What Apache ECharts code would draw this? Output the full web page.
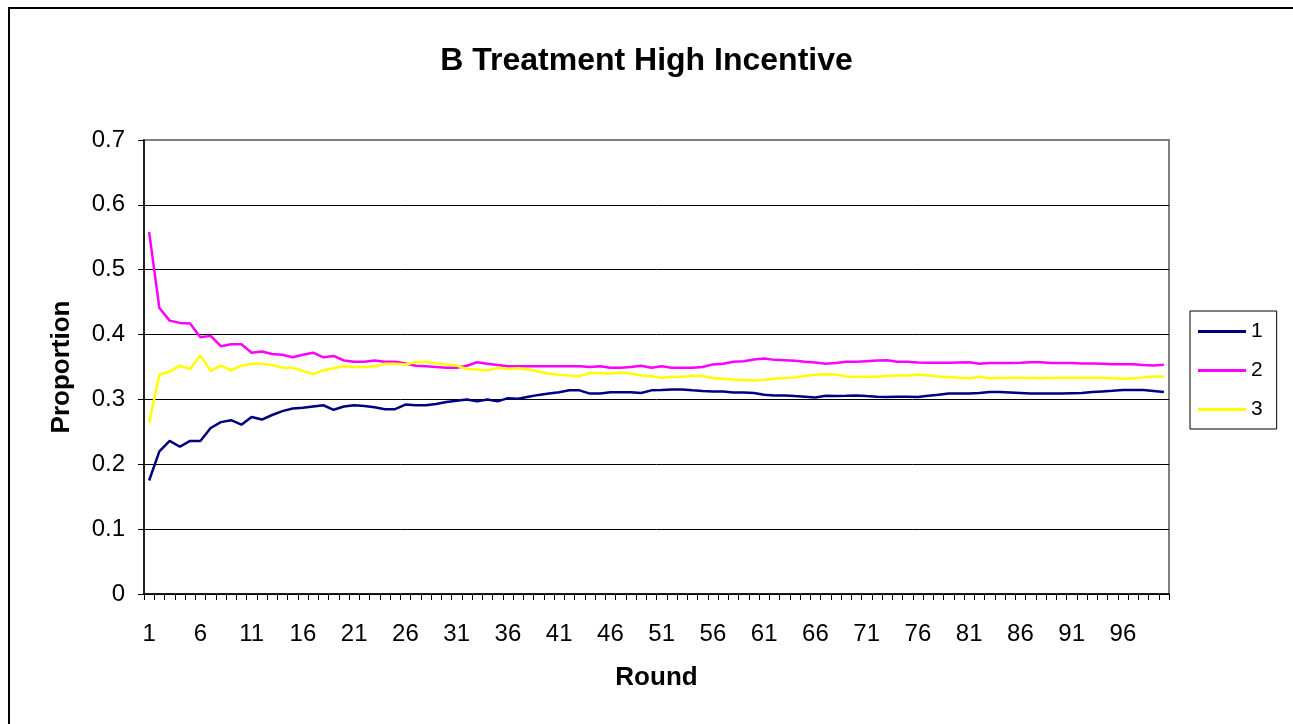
<!DOCTYPE html>
<html>
<head>
<meta charset="utf-8">
<script src="https://cdn.jsdelivr.net/npm/echarts@6/dist/echarts.min.js"></script>
<style>html,body{margin:0;padding:0;background:#fff;}#c{width:1293px;height:724px;}</style>
</head>
<body>
<div id="c"></div>
<script>
const rounds = [1,2,3,4,5,6,7,8,9,10,11,12,13,14,15,16,17,18,19,20,21,22,23,24,25,26,27,28,29,30,31,32,33,34,35,36,37,38,39,40,41,42,43,44,45,46,47,48,49,50,51,52,53,54,55,56,57,58,59,60,61,62,63,64,65,66,67,68,69,70,71,72,73,74,75,76,77,78,79,80,81,82,83,84,85,86,87,88,89,90,91,92,93,94,95,96,97,98,99,100];
const seriesNames = ['1','2','3'];
const s1 = [0.175,0.220,0.236,0.227,0.236,0.236,0.256,0.265,0.268,0.261,
  0.273,0.269,0.276,0.282,0.286,0.287,0.289,0.291,0.284,0.289,
  0.291,0.290,0.288,0.285,0.285,0.292,0.291,0.291,0.293,0.296,
  0.298,0.300,0.297,0.300,0.297,0.302,0.301,0.304,0.307,0.309,
  0.311,0.314,0.314,0.309,0.309,0.311,0.311,0.311,0.310,0.314,
  0.3144,0.3154,0.3154,0.314,0.313,0.3123,0.3123,0.3108,0.3108,0.310,
  0.3072,0.3062,0.3062,0.3051,0.3041,0.303,0.3056,0.3051,0.3056,0.3062,
  0.3051,0.3041,0.3036,0.3041,0.3041,0.3036,0.3056,0.3072,0.3092,0.3092,
  0.3092,0.310,0.3113,0.3113,0.3108,0.310,0.3092,0.3092,0.3092,0.3092,
  0.3097,0.310,0.3113,0.3123,0.3133,0.3144,0.3144,0.3144,0.313,0.3113];
const s2 = [0.558,0.441,0.4215,0.418,0.417,0.396,0.398,0.382,0.385,0.385,
  0.372,0.374,0.370,0.369,0.365,0.369,0.372,0.365,0.367,0.360,
  0.358,0.358,0.360,0.358,0.358,0.3554,0.352,0.351,0.350,0.349,
  0.349,0.352,0.3574,0.3549,0.353,0.351,0.351,0.351,0.351,0.351,
  0.351,0.351,0.351,0.350,0.351,0.349,0.349,0.350,0.352,0.349,
  0.351,0.349,0.349,0.349,0.350,0.354,0.355,0.358,0.359,0.3615,
  0.363,0.361,0.3605,0.3595,0.358,0.357,0.355,0.356,0.358,0.358,
  0.359,0.360,0.3605,0.358,0.358,0.357,0.3564,0.3564,0.3564,0.3569,
  0.3574,0.3549,0.356,0.356,0.356,0.3564,0.3574,0.3574,0.356,0.356,
  0.356,0.3554,0.3554,0.3549,0.3544,0.3544,0.3544,0.353,0.3523,0.3533];
const s3 = [0.264,0.338,0.343,0.352,0.347,0.368,0.344,0.352,0.345,0.352,
  0.355,0.355,0.353,0.349,0.349,0.344,0.339,0.345,0.348,0.351,
  0.350,0.350,0.351,0.355,0.355,0.3538,0.3574,0.358,0.3554,0.354,
  0.3523,0.347,0.346,0.3446,0.3487,0.347,0.3482,0.3462,0.343,0.3395,
  0.338,0.3369,0.3359,0.341,0.3405,0.340,0.3415,0.340,0.3369,0.3359,
  0.3333,0.335,0.335,0.3364,0.336,0.333,0.3318,0.3308,0.330,0.329,
  0.3303,0.3318,0.333,0.334,0.336,0.338,0.339,0.3385,0.3354,0.3344,
  0.335,0.335,0.3364,0.337,0.337,0.3385,0.337,0.3354,0.3344,0.3333,
  0.3328,0.335,0.3328,0.3333,0.3333,0.3333,0.3333,0.3328,0.3333,0.3333,
  0.3333,0.3333,0.3333,0.3333,0.3328,0.3318,0.3328,0.334,0.3354,0.3354];
const yTicks = [0,0.1,0.2,0.3,0.4,0.5,0.6,0.7];

const colors = ['#000080','#FF00FF','#FFFF00'];
const font = 'Liberation Sans, Arial, sans-serif';
const chart = echarts.init(document.getElementById('c'), null, {renderer:'canvas'});
const values = [s1, s2, s3];
chart.setOption({
  animation:false,
  backgroundColor:'#fff',
  title:{text:'B Treatment High Incentive', left:'center', top:40,
    textStyle:{fontFamily:font, fontWeight:'bold', fontSize:32, color:'#000'}},
  graphic:[{type:'rect', shape:{x:9, y:8, width:1300, height:730},
    style:{fill:'none', stroke:'#000', lineWidth:2}, silent:true, z:-1}],
  legend:{orient:'vertical', left:1190, top:311,
    padding:[10,14,9,8], itemGap:18, itemWidth:48, itemHeight:3, icon:'rect',
    borderColor:'#000', borderWidth:1, backgroundColor:'#fff',
    textStyle:{fontFamily:font, fontSize:21, color:'#000'},
    data:seriesNames},
  grid:{left:144, right:124, top:140, bottom:130, show:true, borderColor:'#808080', borderWidth:2, containLabel:false},
  xAxis:{type:'category', data:rounds, boundaryGap:true,
    name:'Round', nameLocation:'middle', nameGap:71,
    nameTextStyle:{fontFamily:font, fontWeight:'bold', fontSize:26, color:'#000'},
    axisLine:{lineStyle:{color:'#000', width:1.5}},
    axisTick:{show:true, interval:0, length:6, lineStyle:{color:'#000'}},
    axisLabel:{interval:4, margin:28, fontFamily:font, fontSize:24, color:'#000'},
    splitLine:{show:false}},
  yAxis:{type:'value', min:0, max:0.7, interval:0.1,
    name:'Proportion', nameLocation:'middle', nameGap:69, nameRotate:90,
    nameTextStyle:{fontFamily:font, fontWeight:'bold', fontSize:26, color:'#000'},
    axisLine:{show:true, lineStyle:{color:'#000', width:1.5}},
    axisTick:{show:true, length:6, lineStyle:{color:'#000'}},
    axisLabel:{margin:19, fontFamily:font, fontSize:24, color:'#000',
      formatter:function(v){ return String(Math.round(v*10)/10); }},
    splitLine:{show:true, lineStyle:{color:['#000','#000','#000','#000','#000','#000','#000','#808080'], width:1}}},
  series: seriesNames.map(function(n,i){ return {
    name:n, type:'line', data:values[i], showSymbol:false, symbol:'none',
    lineStyle:{color:colors[i], width:2.5}, itemStyle:{color:colors[i]}, z:3+ (i===0?2:0)
  };})
});
</script>
</body>
</html>
